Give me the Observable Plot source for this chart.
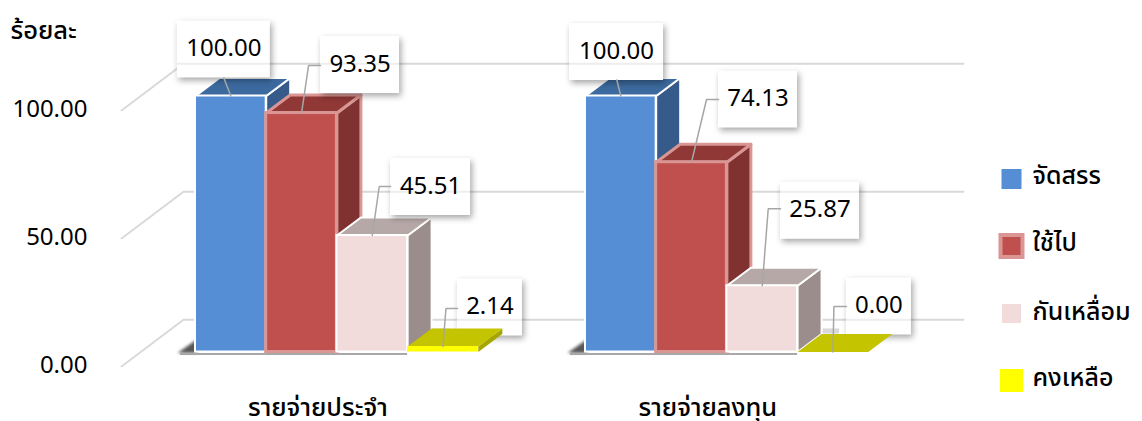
<!DOCTYPE html>
<html><head><meta charset="utf-8">
<script src="https://cdn.jsdelivr.net/npm/d3@7"></script>
<script src="https://cdn.jsdelivr.net/npm/@observablehq/plot@0.6"></script>
<style>
html,body{margin:0;padding:0;background:#fff}
svg{display:block}
</style></head><body><div id="c"></div>
<script>
// data
const categories = ["รายจ่ายประจำ", "รายจ่ายลงทุน"];
const seriesNames = ["จัดสรร", "ใช้ไป", "กันเหลื่อม", "คงเหลือ"];
const allocated = [100.00, 100.00];
const spent = [93.35, 74.13];
const carried = [45.51, 25.87];
const remaining = [2.14, 0.00];
const yTicks = [0, 50, 100];
const yTitle = "ร้อยละ";

// layout (pixels per scale unit)
const W = 1142, H = 421, FONT = "Tahoma, 'Noto Sans', 'Noto Sans Thai', sans-serif";
const slotPx = 70.7, unitPx = 2.56, x0Px = 195, y0Px = 351.5;
const sx = px => px / slotPx, sy = px => px / unitPx;
const X = px => (px - x0Px) / slotPx, Y = py => (y0Px - py) / unitPx;
const groupStart = [0, 5.516];
const depth = {x: sx(24), y: sy(18)};
const wallBack = {x: X(183), y: sy(y0Px - 319.3)}, wallFront = {x: X(121), y: -sy(366 - y0Px)};
const wallEnd = X(963);

const faces = [
  {front:"#558ED5", top:"#3C6A9F", side:"#365A8A", edge:"#fff", sw:2},
  {front:"#C0504D", top:"#8F3836", side:"#7F3230", edge:"#D99694", sw:3},
  {front:"#F2DCDB", top:"#B6A8A6", side:"#9B8D8B", edge:"#fff", sw:2},
  {front:"#FFFF00", top:"#C4C400", side:"#A6A600", edge:"none", sw:0}
];
const series = [allocated, spent, carried, remaining];
// callout geometry relative to bar top centre, in px: box centre, box width, elbow
const callouts = [
  [[-7,-46.5,93,-7,-18,0],[58.5,-48,79,7,-47.5,1],[58.3,-48.5,80,7,-49,1],[47,-39,65,3,-38,1]],
  [[-4.3,-44,94,-4,-16,0],[66.5,-62.7,79,15,-62.7,1],[57.8,-75,79,6,-77,1],[46,-45.5,65,1,-45.5,1]]
];
const boxH = 57;

const withFilter = filter => (index, scales, values, dims, ctx, next) => {
  const g = next(index, scales, values, dims, ctx);
  g.style.filter = filter;
  return g;
};
const poly = (pts, o) => Plot.line(pts.map(([x,y])=>({x,y})), {x:"x", y:"y", curve:"linear-closed", ...o});
const marks = [];

// walls
yTicks.forEach(t => {
  const g = [[wallFront.x, t + wallFront.y], [wallBack.x, t + wallBack.y], [wallEnd, t + wallBack.y]];
  marks.push(Plot.line(g.map(([x,y])=>({x,y})), {x:"x", y:"y", stroke:"#D9D9D9", strokeWidth:2}));
});

// y tick labels
marks.push(Plot.text(yTicks, {x:()=>X(87), y:t=>t + wallFront.y + sy(1), text:t=>t.toFixed(2), textAnchor:"end", fontSize:24, fontFamily:FONT, fill:"#000"}));
marks.push(Plot.text([yTitle], {x:()=>X(10), y:()=>Y(30), text:d=>d, textAnchor:"start", fontSize:25.5, fontWeight:500, fontFamily:FONT, fill:"#000"}));

const drawBar = (g, i) => {
  const v = series[i][g], x1 = groupStart[g] + i, x2 = x1 + 1, f = faces[i];
  const so = {stroke:f.edge, strokeWidth:f.sw};
  marks.push(poly([[x2,0],[x2+depth.x,depth.y],[x2+depth.x,v+depth.y],[x2,v]], {fill:f.side, ...so}));
  marks.push(poly([[x1,v],[x2,v],[x2+depth.x,v+depth.y],[x1+depth.x,v+depth.y]], {fill:f.top, ...so}));
  if (v > 0) marks.push(Plot.rect([{x1,x2,y1:0,y2:v}], {x1:"x1", x2:"x2", y1:"y1", y2:"y2", fill:f.front, ...so}));
};

// floor shadow + three tall bars
categories.forEach((c, g) => {
  const s = groupStart[g];
  marks.push(poly([[s-sx(18),-sy(1)],[s+sx(2),sy(13)],[s+sx(2),-sy(1)]], {fill:"#444", stroke:"none", fillOpacity:.9, render:withFilter("blur(1.5px)")}));
  marks.push(Plot.ruleY([0], {x1:s-sx(15), x2:s+3, y:()=>-sy(2), stroke:"#A8A8A8", strokeWidth:2, render:withFilter("blur(.6px)")}));
  const bx = s + 3 + depth.x;
  marks.push(Plot.rect([0], {x1:()=>bx, x2:()=>bx+sx(18), y1:()=>depth.y, y2:()=>depth.y+sy(5), fill:"#D8D8D8"}));
  [0,1,2].forEach(i => drawBar(g, i));
});

// callout boxes
categories.forEach((c, g) => {
  series.forEach((vals, i) => {
    const v = vals[g], cx = groupStart[g] + i + .5;
    const [bx,by,bw] = callouts[g][i];
    const b = {x:cx+sx(bx), y:v-sy(by)};
    marks.push(Plot.rect([b], {x1:d=>d.x-sx(bw/2), x2:d=>d.x+sx(bw/2), y1:d=>d.y-sy(boxH/2), y2:d=>d.y+sy(boxH/2), fill:"#fff", render:withFilter("drop-shadow(2px 3px 3px rgba(0,0,0,.35))")}));
    // the wall's gridline shows faintly through a box
    yTicks.filter(t => Math.abs(t + wallBack.y - b.y) < sy(boxH/2)).forEach(t => {
      marks.push(Plot.ruleY([t + wallBack.y], {x1:()=>b.x-sx(bw/2), x2:()=>b.x+sx(bw/2), stroke:"#D9D9D9", strokeWidth:2, strokeOpacity:.45}));
    });
    marks.push(Plot.text([b], {x:"x", y:d=>d.y+sy(1), text:()=>v.toFixed(2), fontSize:24, fontFamily:FONT, fill:"#000"}));
  });
});

// flat bars sit above the boxes
categories.forEach((c, g) => drawBar(g, 3));

// leader lines
categories.forEach((c, g) => {
  series.forEach((vals, i) => {
    const v = vals[g], cx = groupStart[g] + i + .5;
    const [bx,by,bw,ex,ey,elbow] = callouts[g][i];
    const pts = [[cx,v],[cx+sx(ex),v-sy(ey)]];
    if (elbow) pts.push([cx+sx(bx-bw/2),v-sy(ey)]);
    marks.push(Plot.line(pts.map(([x,y])=>({x,y})), {x:"x", y:"y", stroke:"#A6A6A6", strokeWidth:1.5, strokeLinejoin:"miter"}));
  });
});

// category labels
marks.push(Plot.text(categories, {x:(d,k)=>groupStart[k]+2-sx(19), y:()=>Y(407), text:d=>d, fontSize:25.5, fontWeight:500, fontFamily:FONT, fill:"#000"}));

// legend
const legendY = [179, 246, 313.5, 380.5], legendW = [20, 22, 19, 23], textY = [175, 242, 311, 377];
seriesNames.forEach((n, i) => {
  const f = faces[i], cx = X(1011.5), w = legendW[i];
  marks.push(Plot.rect([n], {x1:()=>cx-sx(w/2), x2:()=>cx+sx(w/2), y1:()=>Y(legendY[i]-w/2), y2:()=>Y(legendY[i]+w/2), fill:f.front, stroke:i===1?f.edge:"none", strokeWidth:i===1?4:0}));
  marks.push(Plot.text([n], {x:()=>X(1032), y:()=>Y(textY[i]), text:d=>d, textAnchor:"start", fontSize:25, fontWeight:500, fontFamily:FONT, fill:"#000"}));
});

const chart = Plot.plot({
  width:W, height:H, margin:0,
  x:{type:"linear", domain:[X(0), X(W)], range:[0,W], axis:null},
  y:{type:"linear", domain:[Y(H), Y(0)], range:[H,0], axis:null},
  style:{background:"#fff", overflow:"visible"},
  marks
});
document.getElementById("c").appendChild(chart);
</script></body></html>
